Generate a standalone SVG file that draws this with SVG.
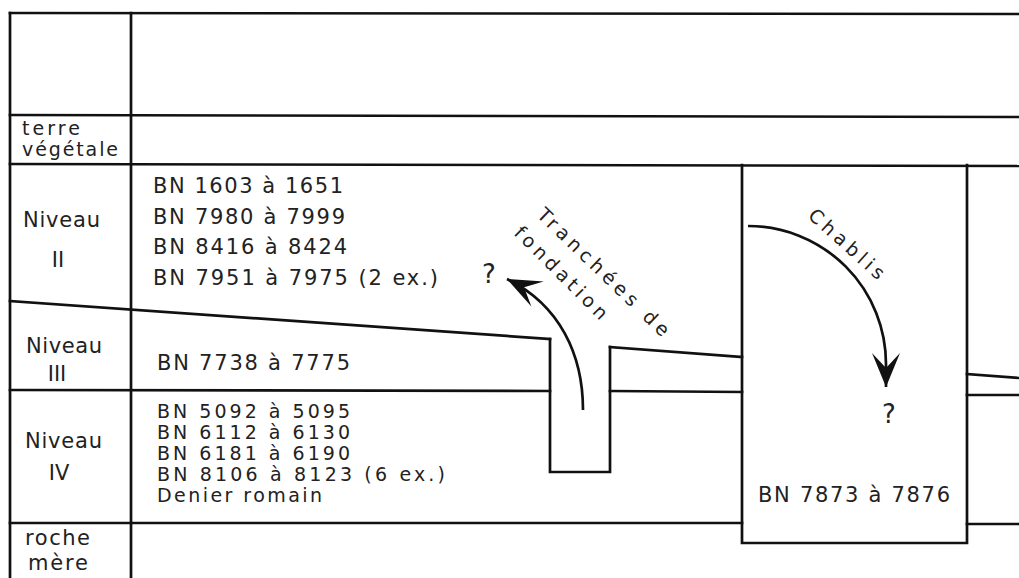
<svg xmlns="http://www.w3.org/2000/svg" width="1019" height="578" viewBox="0 0 1019 578">
  <style>
    .ln { stroke: #111; stroke-width: 2.7; fill: none; stroke-linecap: square; }
    .arc { stroke: #111; stroke-width: 2.7; fill: none; }
    .t { font-family: "DejaVu Sans", "Liberation Sans", sans-serif; fill: #222; font-size: 21px; }
    .s { font-size: 19px; }
    .r { font-size: 19px; }
    .c { text-anchor: middle; }
    .q { font-size: 26px; }
  </style>
  <defs>
    <marker id="barb" markerUnits="userSpaceOnUse" viewBox="-40 -20 44 40" refX="0" refY="0" markerWidth="44" markerHeight="40" orient="auto">
      <path d="M0,0 L-34,-14 L-19,0 L-34,14 Z" fill="#111"/>
    </marker>
  </defs>
  <rect width="1019" height="578" fill="#fff"/>

  <g id="table">
    <line class="ln" x1="10" y1="13" x2="1019" y2="14"/>
    <line class="ln" x1="10" y1="13" x2="10" y2="578"/>
    <line class="ln" x1="131" y1="13" x2="131" y2="578"/>
    <line class="ln" x1="10" y1="115" x2="1019" y2="117"/>
    <line class="ln" x1="10" y1="164" x2="1019" y2="166"/>
    <line class="ln" x1="10" y1="301" x2="550" y2="339"/>
    <line class="ln" x1="610" y1="347" x2="742" y2="357"/>
    <line class="ln" x1="967" y1="374" x2="1019" y2="378"/>
    <line class="ln" x1="10" y1="390" x2="550" y2="391"/>
    <line class="ln" x1="610" y1="391" x2="742" y2="392"/>
    <line class="ln" x1="967" y1="395" x2="1019" y2="395"/>
    <line class="ln" x1="10" y1="523" x2="742" y2="523"/>
    <line class="ln" x1="967" y1="524" x2="1019" y2="524"/>
  </g>

  <g id="trench">
    <polyline class="ln" points="550,339 550,472 610,472 610,347"/>
  </g>

  <g id="chablis-box">
    <polyline class="ln" points="742,165 742,543 967,543 967,165"/>
    <text class="t" x="758" y="502" textLength="192">BN 7873 à 7876</text>
    <text class="t q" x="882" y="423">?</text>
  </g>

  <g id="labels">
    <text class="t r" x="22" y="135" textLength="58">terre</text>
    <text class="t r" x="22" y="156" textLength="96">végétale</text>
    <text class="t" x="23" y="227" textLength="77">Niveau</text>
    <text class="t c" x="58" y="267">II</text>
    <text class="t" x="26" y="353" textLength="76">Niveau</text>
    <text class="t c" x="57" y="381">III</text>
    <text class="t" x="25" y="448" textLength="77">Niveau</text>
    <text class="t c" x="59" y="480">IV</text>
    <text class="t" x="25" y="545" textLength="65">roche</text>
    <text class="t" x="28" y="570" textLength="60">mère</text>
  </g>

  <g id="niveau-II">
    <text class="t" x="153" y="193" textLength="190">BN 1603 à 1651</text>
    <text class="t" x="153" y="224" textLength="192">BN 7980 à 7999</text>
    <text class="t" x="153" y="254" textLength="194">BN 8416 à 8424</text>
    <text class="t" x="153" y="285" textLength="285">BN 7951 à 7975 (2 ex.)</text>
  </g>

  <g id="niveau-III">
    <text class="t" x="157" y="370" textLength="193">BN 7738 à 7775</text>
  </g>

  <g id="niveau-IV">
    <text class="t s" x="157" y="418" textLength="193">BN 5092 à 5095</text>
    <text class="t s" x="157" y="439" textLength="193">BN 6112 à 6130</text>
    <text class="t s" x="157" y="460" textLength="193">BN 6181 à 6190</text>
    <text class="t s" x="157" y="481" textLength="288">BN 8106 à 8123 (6 ex.)</text>
    <text class="t s" x="157" y="502" textLength="165">Denier romain</text>
  </g>

  <g id="connectors">
    <path class="arc" d="M583,410 C583,355 560,305 507,279" marker-end="url(#barb)"/>
    <path class="arc" d="M748,226 A138,138 0 0 1 886,364 L886,387" marker-end="url(#barb)"/>
  </g>

  <g id="arrow-labels">
    <text class="t r" transform="translate(536,216) rotate(44)" textLength="175">Tranchées  de</text>
    <text class="t r" transform="translate(513,234) rotate(45)" textLength="123">fondation</text>
    <text class="t r" transform="translate(807,217) rotate(42)" textLength="95">Chablis</text>
    <text class="t q" x="482" y="283">?</text>
  </g>
</svg>
